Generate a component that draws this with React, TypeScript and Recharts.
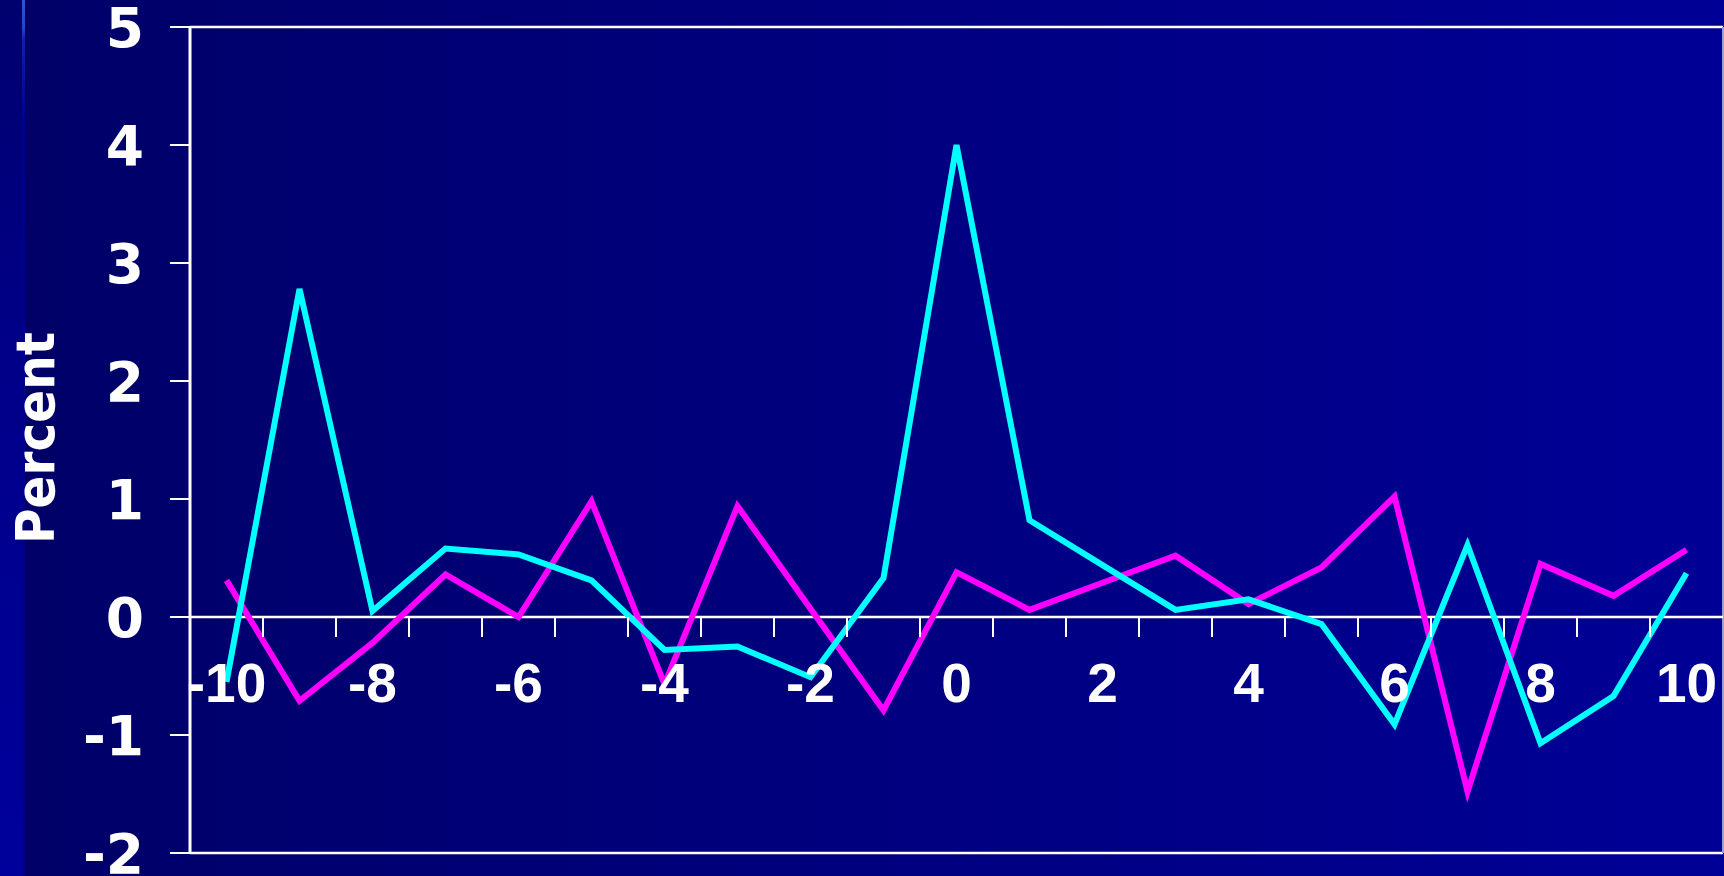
import React from 'react';
import { LineChart, Line, XAxis, YAxis, ReferenceLine } from 'recharts';

// Event window (days relative to the event)
const CATEGORIES = [-10, -9, -8, -7, -6, -5, -4, -3, -2, -1, 0, 1, 2, 3, 4, 5, 6, 7, 8, 9, 10];

// Percent series
const MAGENTA_SERIES = [0.31, -0.71, -0.22, 0.36, 0.0, 0.98, -0.57, 0.94, 0.07, -0.79, 0.38, 0.06, 0.29, 0.52, 0.11, 0.42, 1.02, -1.48, 0.45, 0.18, 0.57];
const CYAN_SERIES = [-0.55, 2.78, 0.05, 0.58, 0.53, 0.31, -0.28, -0.25, -0.51, 0.33, 4.0, 0.82, 0.44, 0.06, 0.15, -0.06, -0.91, 0.61, -1.07, -0.67, 0.37];

const Y_TICKS = [-2, -1, 0, 1, 2, 3, 4, 5];
const X_LABELS = [-10, -8, -6, -4, -2, 0, 2, 4, 6, 8, 10];
const X_BOUNDARIES = [-9.5, -8.5, -7.5, -6.5, -5.5, -4.5, -3.5, -2.5, -1.5, -0.5, 0.5, 1.5, 2.5, 3.5, 4.5, 5.5, 6.5, 7.5, 8.5, 9.5];

const Y_MIN = -2;
const Y_MAX = 5;
const X_MIN = -10.5;
const X_MAX = 10.5;

const data = CATEGORIES.map((x, i) => ({ x, magenta: MAGENTA_SERIES[i], cyan: CYAN_SERIES[i] }));
const xTicks = [...X_BOUNDARIES, ...X_LABELS].sort((a, b) => a - b);

const WIDTH = 1724;
const HEIGHT = 876;
const X_AXIS_HEIGHT = 23;
const MARGIN = { top: 27, right: 1, bottom: 0, left: 90 };
const Y_AXIS_WIDTH = 100;
const PLOT_TOP = MARGIN.top;
const PLOT_HEIGHT = HEIGHT - MARGIN.top - MARGIN.bottom - X_AXIS_HEIGHT;
// category axis crosses the value axis at 0
const ZERO_Y = PLOT_TOP + (PLOT_HEIGHT * (Y_MAX - 0)) / (Y_MAX - Y_MIN);

const WHITE = '#ffffff';

const CategoryTick = (props: any) => {
  const { x, payload } = props;
  const v = payload.value as number;
  if (!Number.isInteger(v)) {
    return <line x1={x} x2={x} y1={ZERO_Y} y2={ZERO_Y + 20} stroke={WHITE} strokeWidth={2} />;
  }
  if (v % 2 !== 0) return <g />;
  return (
    <text
      x={x}
      y={ZERO_Y + 85}
      textAnchor="middle"
      fill={WHITE}
      fontSize={55}
      fontWeight="bold"
      fontFamily="'Liberation Sans', Arial, sans-serif"
    >
      {v}
    </text>
  );
};

export default function App() {
  return (
    <div
      style={{
        position: 'fixed',
        left: 0,
        top: 0,
        width: WIDTH,
        height: HEIGHT,
        background: 'linear-gradient(to right, #000066 0px, #000068 25px, #000096 100%)',
        overflow: 'hidden',
      }}
    >
      <div
        style={{
          position: 'absolute',
          left: 0,
          top: 0,
          width: 22,
          height: HEIGHT,
          background: 'linear-gradient(to bottom, #00006e 0%, #000088 40%, #00009c 100%)',
        }}
      />
      <div
        style={{
          position: 'absolute',
          left: 22,
          top: 0,
          width: 3,
          height: HEIGHT,
          background: 'linear-gradient(to bottom, #2a55d6 0px, #1e48cc 28px, #0a1fb0 40px, #00008e 120px, #00008c 100%)',
        }}
      />
      <LineChart width={WIDTH} height={HEIGHT} data={data} margin={MARGIN} style={{ position: 'absolute', left: 0, top: 0 }}>
        <XAxis
          dataKey="x"
          type="number"
          domain={[X_MIN, X_MAX]}
          ticks={xTicks}
          interval={0}
          height={X_AXIS_HEIGHT}
          axisLine={false}
          tickLine={false}
          tick={<CategoryTick />}
          allowDataOverflow
        />
        <YAxis
          type="number"
          domain={[Y_MIN, Y_MAX]}
          ticks={Y_TICKS}
          interval={0}
          width={Y_AXIS_WIDTH}
          axisLine={{ stroke: WHITE, strokeWidth: 3 }}
          tickLine={{ stroke: WHITE, strokeWidth: 2 }}
          tickSize={20}
          tickMargin={26}
          tick={{ fill: WHITE, fontSize: 55, fontWeight: 'bold', fontFamily: "'DejaVu Sans', Verdana, sans-serif" }}
          label={{
            value: 'Percent',
            content: () => (
              <text
                x={54}
                y={438}
                transform="rotate(-90, 54, 438)"
                textAnchor="middle"
                fill={WHITE}
                fontSize={54}
                fontWeight="bold"
                fontFamily="'DejaVu Sans Condensed', 'DejaVu Sans', sans-serif"
              >
                Percent
              </text>
            ),
          }}
        />
        <ReferenceLine y={Y_MAX} stroke={WHITE} strokeWidth={2.5} />
        <ReferenceLine y={Y_MIN} stroke={WHITE} strokeWidth={2.5} />
        <ReferenceLine x={X_MAX} stroke="#9c9cdc" strokeWidth={2} />
        <ReferenceLine y={0} stroke={WHITE} strokeWidth={2.5} />
        <Line type="linear" dataKey="magenta" stroke="#ff00ff" strokeWidth={6} dot={false} isAnimationActive={false} />
        <Line type="linear" dataKey="cyan" stroke="#00ffff" strokeWidth={6} dot={false} isAnimationActive={false} />
      </LineChart>
    </div>
  );
}
